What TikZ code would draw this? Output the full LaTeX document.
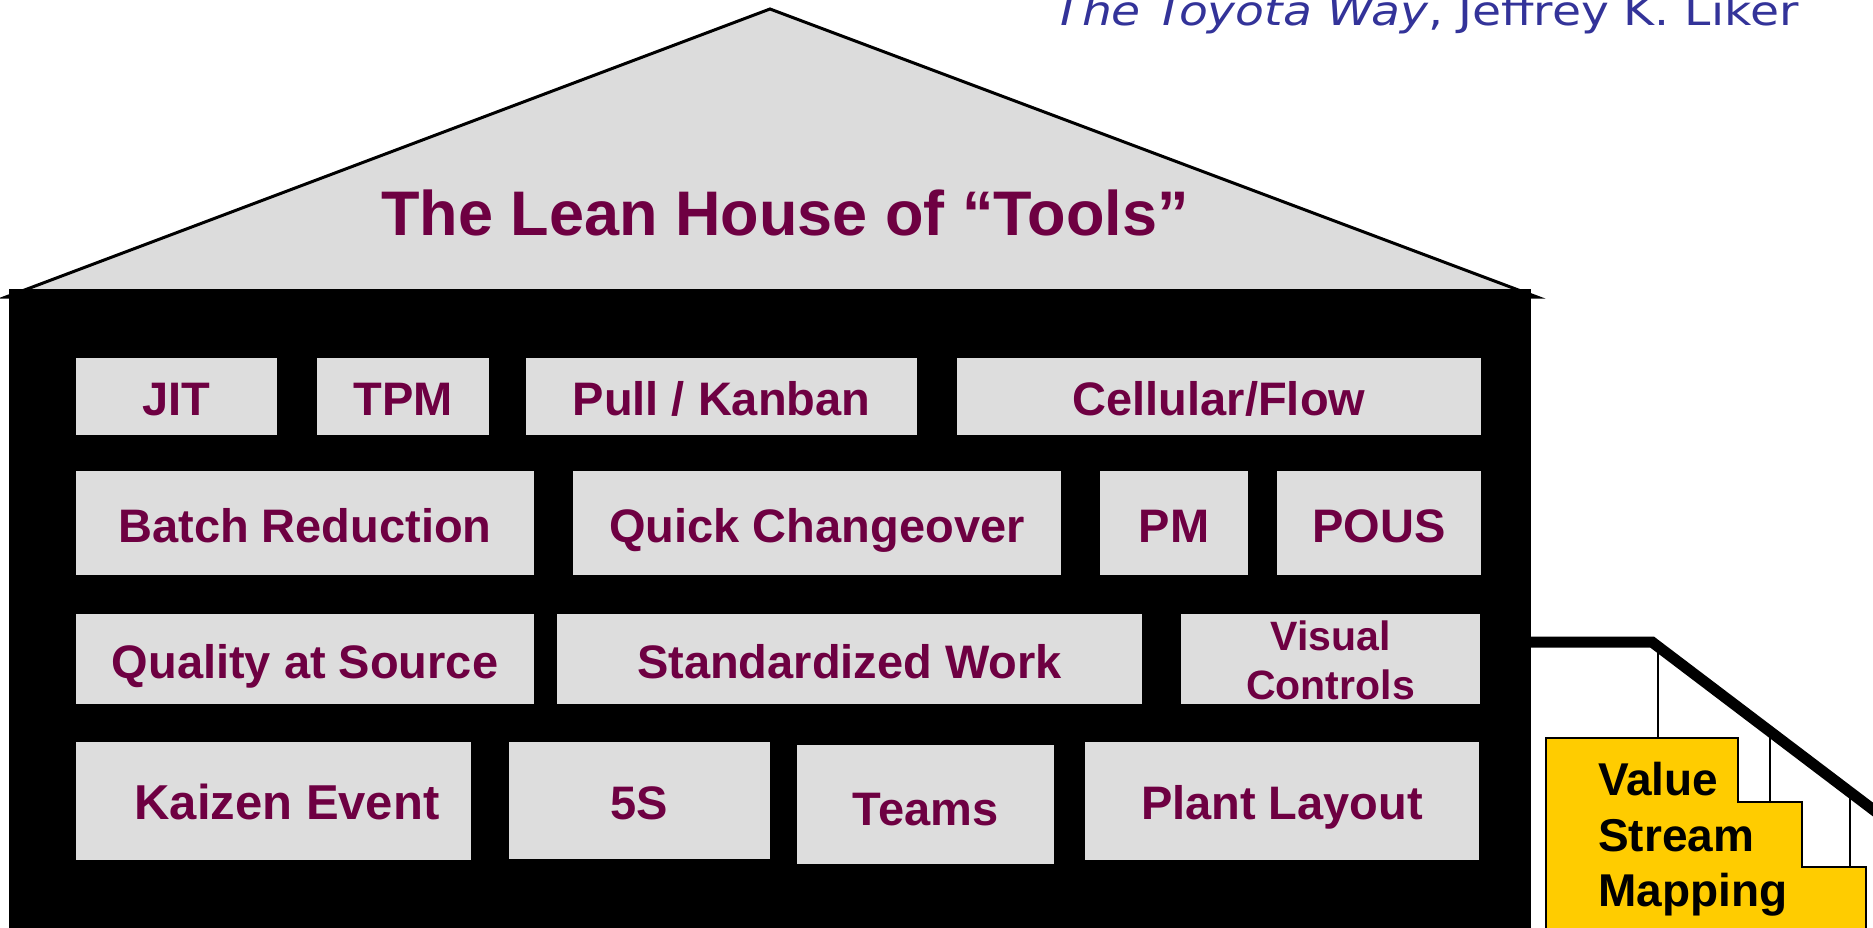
\documentclass[tikz,border=0pt]{standalone}
\usepackage{fontspec}
\setmainfont{Liberation Sans}
\newfontfamily\authorfont{DejaVu Sans}
\definecolor{lmaroon}{RGB}{110,0,66}
\definecolor{boxgray}{RGB}{221,221,221}
\definecolor{roofgray}{RGB}{220,220,220}
\definecolor{authorblue}{RGB}{51,51,153}
\definecolor{vsmyellow}{RGB}{255,204,0}
\begin{document}
\begin{tikzpicture}[x=1pt,y=-1pt,
  tbox/.style 2 args={fill=boxgray, draw=none, inner sep=0, minimum width=#1pt, minimum height=#2pt},
  lbl/.style={text=lmaroon, font=\fontsize{47}{49}\selectfont\bfseries, anchor=base, inner sep=0},
  vsm/.style={text=black, font=\fontsize{46}{55}\selectfont\bfseries, anchor=base west, inner sep=0},
  post/.style={draw=black, line width=2pt}
]
\useasboundingbox (0,0) rectangle (1873,928);
\fill[white] (0,0) rectangle (1873,928);

% roof
\coordinate (roofL) at (6,297);
\coordinate (apex) at (770,9);
\coordinate (roofR) at (1537,297);
\filldraw[fill=roofgray, draw=black, line width=3pt, line join=miter] (roofL) -- (apex) -- (roofR) -- cycle;
\node[text=lmaroon, font=\fontsize{63}{70}\selectfont\bfseries, anchor=base, inner sep=0] (title) at (785,235) {The Lean House of “Tools”};

% house body
\node[fill=black, inner sep=0, minimum width=1522pt, minimum height=645pt, anchor=north west] (body) at (9,289) {};

% author line
\node[text=authorblue, anchor=base west, inner sep=0] (author) at (1053,26)
  {\resizebox{745pt}{31pt}{\authorfont\textit{The Toyota Way}, Jeffrey K. Liker}};

% row 1
\node[tbox={201}{77}] (jit) at (176.5,396.5) {};
\node[tbox={172}{77}] (tpm) at (403,396.5) {};
\node[tbox={391}{77}] (pull) at (721.5,396.5) {};
\node[tbox={524}{77}] (cell) at (1219,396.5) {};
\node[lbl] (tjit) at (176.5,415) {JIT};
\node[lbl] (ttpm) at (403,415) {TPM};
\node[lbl] (tpull) at (721.5,415) {Pull / Kanban};
\node[lbl] (tcell) at (1219,415) {Cellular/Flow};

% row 2
\node[tbox={458}{104}] (batch) at (305,523) {};
\node[tbox={488}{104}] (quick) at (817,523) {};
\node[tbox={148}{104}] (pm) at (1174,523) {};
\node[tbox={204}{104}] (pous) at (1379,523) {};
\node[lbl] (tbatch) at (305,542) {Batch Reduction};
\node[lbl] (tquick) at (817,542) {Quick Changeover};
\node[lbl] (tpm2) at (1174,542) {PM};
\node[lbl] (tpous) at (1379,542) {POUS};

% row 3
\node[tbox={458}{90}] (qual) at (305,659) {};
\node[tbox={585}{90}] (std) at (849.5,659) {};
\node[tbox={299}{90}] (vis) at (1330.5,659) {};
\node[lbl] (tqual) at (305,678.5) {Quality at Source};
\node[lbl] (tstd) at (849.5,678.5) {Standardized Work};
\node[text=lmaroon, font=\fontsize{41}{49}\selectfont\bfseries, align=center, inner sep=0] (tvis) at (1330.5,660) {Visual\\Controls};

% row 4
\node[tbox={395}{118}] (kaizen) at (273.5,801) {};
\node[tbox={261}{117}] (fives) at (639.5,800.5) {};
\node[tbox={257}{119}] (teams) at (925.5,804.5) {};
\node[tbox={394}{118}] (plant) at (1282,801) {};
\node[lbl, font=\fontsize{49}{51}\selectfont\bfseries] (tkaizen) at (287,819.5) {Kaizen Event};
\node[lbl] (tfives) at (639.5,819.5) {5S};
\node[lbl] (tteams) at (925.5,825) {Teams};
\node[lbl] (tplant) at (1282,819.5) {Plant Layout};

% stairs
\filldraw[fill=vsmyellow, draw=black, line width=2pt]
  (1546,940) -- (1546,738) -- (1738,738) -- (1738,802) -- (1802,802) -- (1802,867) -- (1866,867) -- (1866,940);
\coordinate (railA) at (1531,642);
\coordinate (railB) at (1652,642);
\coordinate (railC) at (1900,830);
\draw[line width=11pt, line join=miter, miter limit=10] (railA) -- (railB) -- (railC);
\draw[post] (1658,647) -- (1658,738);
\draw[post] (1770,730) -- (1770,802);
\draw[post] (1850,790) -- (1850,867);
\node[vsm] (v1) at (1598,795) {Value};
\node[vsm] (v2) at (1598,851) {Stream};
\node[vsm] (v3) at (1598,906) {Mapping};
\end{tikzpicture}
\end{document}
